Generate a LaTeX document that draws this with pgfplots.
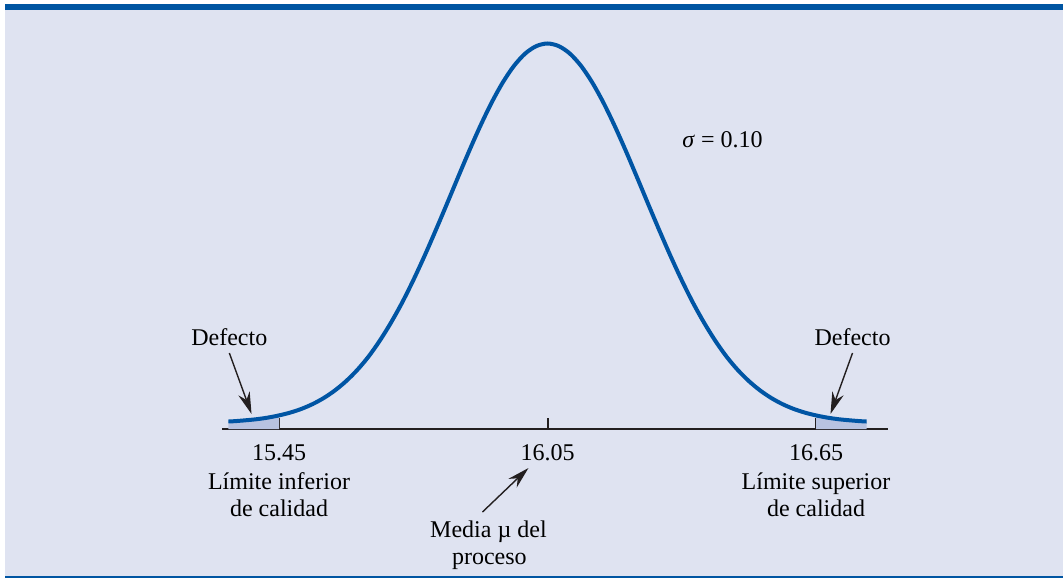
\documentclass[border=0pt]{standalone}
\usepackage{fontspec}
\setmainfont{LiberationSerif}[Extension=.ttf, UprightFont=*-Regular, ItalicFont=*-Italic, BoldFont=*-Bold, BoldItalicFont=*-BoldItalic]
\usepackage{pgfplots}
\pgfplotsset{compat=1.18}
\usepackage{pgfplotstable}
\usetikzlibrary{arrows.meta}
\definecolor{panel}{HTML}{DFE3F1}
\definecolor{band}{HTML}{0055A2}
\definecolor{curve}{HTML}{0055A4}
\definecolor{tail}{HTML}{B8C3E1}
\definecolor{ink}{HTML}{231F20}

% process distribution (height in px above the base line)
\pgfplotstableread{
x      y
15.337 7.5
15.350 7.8
15.375 8.7
15.400 9.8
15.425 11.4
15.450 13.6
15.475 16.4
15.500 20.1
15.525 24.9
15.550 31.0
15.575 38.6
15.600 47.9
15.625 59.1
15.650 72.4
15.675 88.2
15.700 106.2
15.725 126.3
15.750 148.7
15.775 172.9
15.800 198.5
15.825 224.9
15.850 251.7
15.875 278.1
15.900 303.2
15.925 326.3
15.950 346.5
15.975 363.1
16.000 375.4
16.025 382.9
16.050 385.5
16.075 382.9
16.100 375.4
16.125 363.1
16.150 346.5
16.175 326.3
16.200 303.2
16.225 278.1
16.250 251.7
16.275 224.9
16.300 198.5
16.325 172.9
16.350 148.7
16.375 126.3
16.400 106.2
16.425 88.2
16.450 72.4
16.475 59.1
16.500 47.9
16.525 38.6
16.550 31.0
16.575 24.9
16.600 20.1
16.625 16.4
16.650 13.6
16.675 11.4
16.700 9.8
16.725 8.7
16.750 7.8
16.763 7.5
}\curvedata

\begin{document}
\begin{tikzpicture}[x=1pt,y=1pt,font=\rmfamily\fontsize{12}{13.5}\selectfont]
\path[use as bounding box] (-111,-74.5) rectangle (420.5,214.5);
\fill[panel] (-108.5,-73.3) rectangle (420.5,209.5);
\fill[band] (-108.5,209.5) rectangle (420.5,212.5);
\fill[band] (-108.5,-74.5) rectangle (420.5,-73.3);
\begin{axis}[
    at={(0,0)}, anchor=south west,
    scale only axis,
    width=333pt, height=200pt,
    xmin=15.3226, xmax=16.8109,
    ymin=0, ymax=400,
    axis x line*=bottom,
    axis y line=none,
    x axis line style={-, line width=1pt, color=ink},
    xtick={15.45,16.05,16.65},
    xticklabels={},
    tick align=inside,
    major tick length=5.5pt,
    tick style={line width=1pt, color=ink},
    clip=false,
    every node/.style={font=\rmfamily\fontsize{12}{13.5}\selectfont, text=ink},
]
% defect tails
\addplot[fill=tail, draw=none] coordinates {
  (15.337,7.5) (15.350,7.8) (15.375,8.7) (15.400,9.8) (15.425,11.4) (15.450,13.6)
} \closedcycle;
\addplot[fill=tail, draw=none] coordinates {
  (16.650,13.6) (16.675,11.4) (16.700,9.8) (16.725,8.7) (16.750,7.8) (16.763,7.5)
} \closedcycle;
\addplot[curve, line width=2pt, smooth] table[x=x, y=y] {\curvedata};

% tick labels
\node[anchor=base] at (axis cs:15.45,-31) {15.45};
\node[anchor=base] at (axis cs:15.45,-60) {Límite inferior};
\node[anchor=base] at (axis cs:15.45,-87) {de calidad};
\node[anchor=base] at (axis cs:16.05,-31) {16.05};
\node[anchor=base] at (axis cs:16.65,-31) {16.65};
\node[anchor=base] at (axis cs:16.65,-60) {Límite superior};
\node[anchor=base] at (axis cs:16.65,-87) {de calidad};

% annotations
\node[anchor=base] at (axis cs:15.918,-108) {Media µ del};
\node[anchor=base] at (axis cs:15.920,-135) {proceso};
\draw[ink, line width=0.7pt, -{Stealth[length=11pt,width=6pt]}] (axis cs:15.9047,-83) -- (axis cs:16.0075,-39);
\node[anchor=base] at (axis cs:15.339,84) {Defecto};
\draw[ink, line width=0.7pt, -{Stealth[length=11pt,width=6pt]}] (axis cs:15.339,76) -- (axis cs:15.3886,15);
\node[anchor=base] at (axis cs:16.7316,84) {Defecto};
\draw[ink, line width=0.7pt, -{Stealth[length=11pt,width=6pt]}] (axis cs:16.7316,76) -- (axis cs:16.6824,15);
\node[anchor=base] at (axis cs:16.441,281) {\textit{σ} = 0.10};
\end{axis}
\end{tikzpicture}
\end{document}
